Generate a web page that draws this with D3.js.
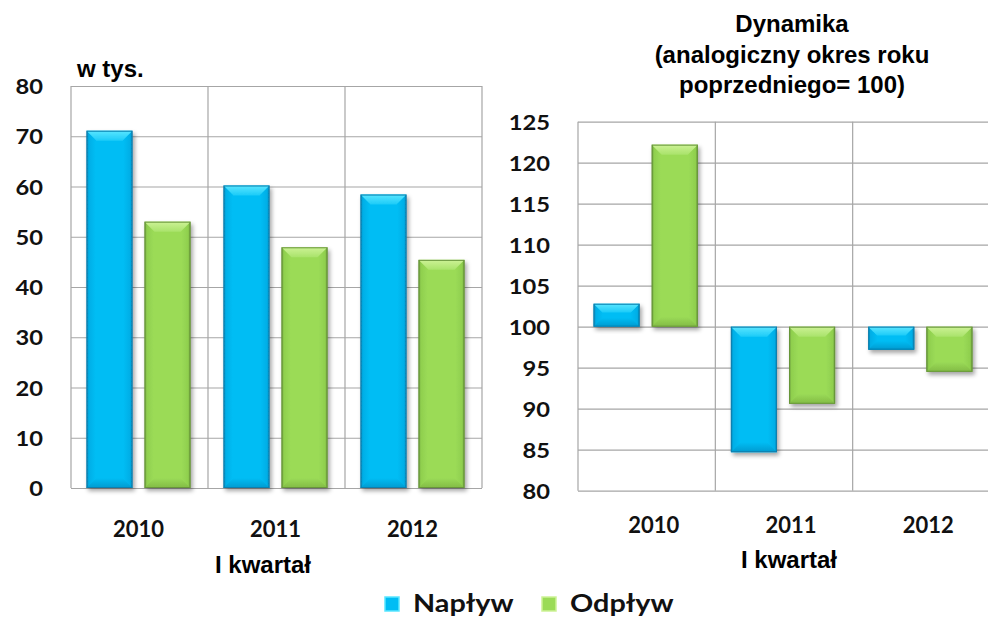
<!DOCTYPE html>
<html>
<head>
<meta charset="utf-8">
<script src="https://cdn.jsdelivr.net/npm/d3@7"></script>
<style>
  body { margin: 0; background: #fff; }
  .grid line { stroke: #a6a6a6; stroke-width: 1.2; }
  .tick-label { font-family: Lato, "Open Sans", sans-serif; font-weight: 700; font-size: 21px; fill: #111;
    transform-box: fill-box; transform-origin: right center; transform: scaleX(1.13); }
  .cat-label { font-family: Lato, sans-serif; font-weight: 700; font-size: 22px; fill: #111; }
  .title { font-family: "Liberation Sans", Arial, sans-serif; font-weight: 700; font-size: 24px; fill: #000; }
  .legend-label { font-family: Lato, sans-serif; font-weight: 700; font-size: 24px; fill: #111;
    transform-box: fill-box; transform-origin: left center; transform: scaleX(1.2); }
</style>
</head>
<body>
<div id="chart"></div>
<script>
// data
const categories = ["2010", "2011", "2012"];
const seriesNames = ["Napływ", "Odpływ"];
const naplyw = [71.1, 60.2, 58.4];      // w tys.
const odplyw = [53.0, 47.9, 45.4];
const dynNaplyw = [102.8, 84.7, 97.2];  // analogiczny okres roku poprzedniego = 100
const dynOdplyw = [122.2, 90.6, 94.5];
const leftTicks = [0, 10, 20, 30, 40, 50, 60, 70, 80];
const rightTicks = [80, 85, 90, 95, 100, 105, 110, 115, 120, 125];

const width = 988, height = 618;

// colours: body, top bevel (light -> mid), bottom bevel, side, edge
const palette = [
  { body: "#00bdf4", top: "#5ae6ff", top2: "#1ccbf8", bottom: "#009ad0", side: "#00aee6", edge: "#0a7fae" },
  { body: "#9bdb57", top: "#cdf296", top2: "#a9e36a", bottom: "#82bb45", side: "#8fcf4e", edge: "#67953a" }
];

const svg = d3.select("#chart").append("svg")
  .attr("width", width)
  .attr("height", height);

svg.append("rect").attr("width", width).attr("height", height).attr("fill", "#fff");

const defs = svg.append("defs");
defs.append("filter")
  .attr("id", "shadow")
  .attr("x", "-20%").attr("y", "-20%").attr("width", "150%").attr("height", "150%")
  .append("feDropShadow")
  .attr("dx", 2).attr("dy", 3).attr("stdDeviation", 2.2)
  .attr("flood-color", "#000").attr("flood-opacity", 0.35);

palette.forEach((p, i) => {
  const grad = defs.append("linearGradient").attr("id", "body" + i)
    .attr("x1", 0).attr("x2", 1).attr("y1", 0).attr("y2", 0);
  grad.append("stop").attr("offset", 0).attr("stop-color", p.edge);
  grad.append("stop").attr("offset", 0.05).attr("stop-color", p.side);
  grad.append("stop").attr("offset", 0.2).attr("stop-color", p.body);
  grad.append("stop").attr("offset", 0.8).attr("stop-color", p.body);
  grad.append("stop").attr("offset", 0.95).attr("stop-color", p.side);
  grad.append("stop").attr("offset", 1).attr("stop-color", p.edge);

  const topGrad = defs.append("linearGradient").attr("id", "top" + i)
    .attr("x1", 0).attr("x2", 0).attr("y1", 0).attr("y2", 1);
  topGrad.append("stop").attr("offset", 0).attr("stop-color", p.top);
  topGrad.append("stop").attr("offset", 1).attr("stop-color", p.top2);

  const botGrad = defs.append("linearGradient").attr("id", "bot" + i)
    .attr("x1", 0).attr("x2", 0).attr("y1", 0).attr("y2", 1);
  botGrad.append("stop").attr("offset", 0).attr("stop-color", p.body);
  botGrad.append("stop").attr("offset", 1).attr("stop-color", p.bottom);
});

function drawPanel(cfg) {
  const g = svg.append("g");
  const [left, right] = cfg.x0.range();
  const [bottom, top] = cfg.y.range();

  const x1 = d3.scaleBand()
    .domain([0, 1])
    .range([0, cfg.x0.bandwidth()])
    .paddingInner(0.207)
    .paddingOuter(0.284)
    .align(0.47);

  // horizontal grid + tick labels
  const yAxis = g.append("g")
    .attr("class", "grid")
    .attr("transform", `translate(${left},0)`)
    .call(d3.axisLeft(cfg.y)
      .tickValues(cfg.ticks)
      .tickSize(-(right - left))
      .tickPadding(28)
      .tickFormat(d3.format("d")));
  yAxis.select(".domain").remove();
  yAxis.selectAll("text")
    .attr("class", "tick-label")
    .attr("dy", "0.36em");

  // vertical grid at category boundaries
  g.append("g").attr("class", "grid")
    .selectAll("line")
    .data([...categories.map(c => cfg.x0(c)), right])
    .join("line")
    .attr("x1", d => d).attr("x2", d => d)
    .attr("y1", bottom).attr("y2", top);

  // bars
  const rows = [];
  categories.forEach((c, i) => {
    cfg.values.forEach((vals, s) => rows.push({ cat: c, s: s, v: vals[i] }));
  });

  const bars = g.append("g").selectAll("g.bar")
    .data(rows)
    .join("g")
    .attr("class", "bar")
    .attr("filter", "url(#shadow)");

  bars.each(function(d) {
    const p = palette[d.s];
    const x = cfg.x0(d.cat) + x1(d.s);
    const w = x1.bandwidth();
    const y0 = cfg.y(Math.max(d.v, cfg.base));
    const y1 = cfg.y(Math.min(d.v, cfg.base));
    const h = y1 - y0;
    const b = Math.min(10, h / 2.6);
    const sel = d3.select(this);
    sel.append("rect")
      .attr("x", x).attr("y", y0).attr("width", w).attr("height", h)
      .attr("fill", `url(#body${d.s})`);
    sel.append("polygon")
      .attr("points", [[x, y1], [x + w, y1], [x + w - b, y1 - b], [x + b, y1 - b]].join(" "))
      .attr("fill", `url(#bot${d.s})`);
    sel.append("polygon")
      .attr("points", [[x, y0], [x + w, y0], [x + w - b, y0 + b], [x + b, y0 + b]].join(" "))
      .attr("fill", `url(#top${d.s})`);
    sel.append("rect")
      .attr("x", x + 0.5).attr("y", y0 + 0.5).attr("width", w - 1).attr("height", h - 1)
      .attr("fill", "none").attr("stroke", p.edge).attr("stroke-width", 1);
  });

  // category labels
  g.append("g").selectAll("text")
    .data(categories)
    .join("text")
    .attr("class", "cat-label")
    .attr("text-anchor", "middle")
    .attr("x", d => cfg.x0(d) + cfg.x0.bandwidth() / 2 + cfg.labelShift)
    .attr("y", cfg.labelY)
    .text(d => d);

  g.append("text")
    .attr("class", "title")
    .attr("text-anchor", "middle")
    .attr("x", cfg.axisTitleX)
    .attr("y", cfg.axisTitleY)
    .text("I kwartał");
}

drawPanel({
  x0: d3.scaleBand().domain(categories).range([71, 482]),
  y: d3.scaleLinear().domain([0, 80]).range([488, 86]),
  ticks: leftTicks,
  values: [naplyw, odplyw],
  base: 0,
  labelShift: -1,
  labelY: 537,
  axisTitleX: 263,
  axisTitleY: 573
});

drawPanel({
  x0: d3.scaleBand().domain(categories).range([578, 990]),
  y: d3.scaleLinear().domain([80, 125]).range([490.7, 121.7]),
  ticks: rightTicks,
  values: [dynNaplyw, dynOdplyw],
  base: 100,
  labelShift: 7,
  labelY: 533,
  axisTitleX: 789,
  axisTitleY: 568
});

// titles
svg.append("text").attr("class", "title")
  .attr("x", 77).attr("y", 77)
  .text("w tys.");

const rightTitle = ["Dynamika", "(analogiczny okres roku", "poprzedniego= 100)"];
svg.append("g").selectAll("text")
  .data(rightTitle)
  .join("text")
  .attr("class", "title")
  .attr("text-anchor", "middle")
  .attr("x", 792)
  .attr("y", (d, i) => 32 + i * 30.5)
  .text(d => d);

// legend
const legendX = [385, 542];
const legend = svg.append("g").selectAll("g")
  .data(seriesNames)
  .join("g")
  .attr("transform", (d, i) => `translate(${legendX[i]},597)`);
legend.append("rect")
  .attr("width", 14).attr("height", 14)
  .attr("fill", (d, i) => palette[i].body)
  .attr("stroke", (d, i) => palette[i].top)
  .attr("stroke-width", 1.5);
legend.append("text")
  .attr("class", "legend-label")
  .attr("x", 28)
  .attr("y", 15)
  .text(d => d);
</script>
</body>
</html>
